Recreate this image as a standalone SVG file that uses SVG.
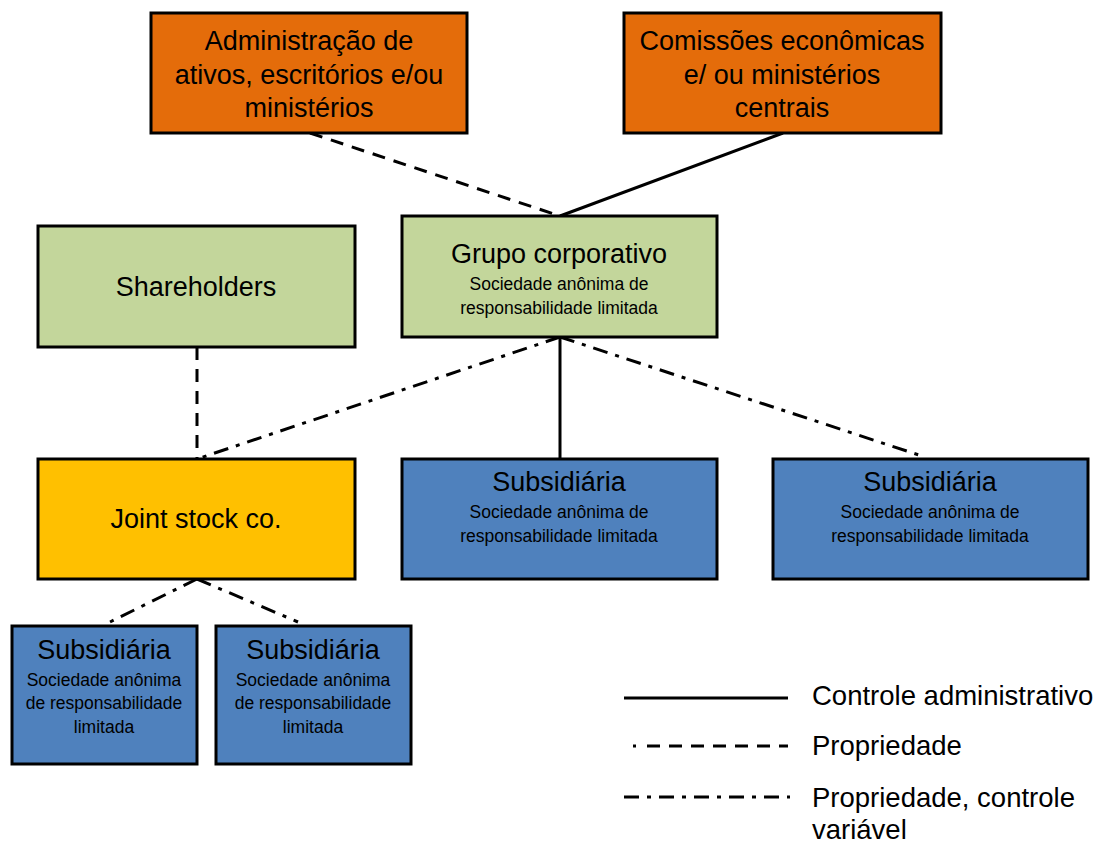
<svg xmlns="http://www.w3.org/2000/svg" width="1099" height="843" viewBox="0 0 1099 843">
<style>
.box{stroke:#000;stroke-width:3}
.org{fill:#E46C0A}
.grn{fill:#C3D69B}
.ylw{fill:#FFC000}
.blu{fill:#4F81BD}
text{font-family:"Liberation Sans",Arial,sans-serif;fill:#000;text-anchor:middle}
.t{font-size:27px}
.s{font-size:17.5px}
.lg{font-size:27.5px;text-anchor:start}
.c{stroke:#000;stroke-width:3;fill:none}
.dash{stroke-dasharray:13,9}
.dd{stroke-dasharray:15,8,4,8}
</style>
<g id="connectors">
<line class="c dash" x1="310" y1="133" x2="560" y2="216"/>
<line class="c" x1="783" y1="133" x2="560" y2="216"/>
<line class="c dash" x1="197" y1="347" x2="197" y2="459"/>
<line class="c dd" x1="560" y1="337" x2="197" y2="459"/>
<line class="c" x1="560" y1="337" x2="560" y2="459"/>
<line class="c dd" x1="560" y1="337" x2="922" y2="456"/>
<line class="c dd" x1="197" y1="579" x2="110" y2="622"/>
<line class="c dd" x1="197" y1="579" x2="298" y2="622"/>
</g>
<g id="admin">
<rect class="box org" x="151" y="13" width="316" height="120"/>
<text class="t" x="309" y="50">Administração de</text>
<text class="t" x="309" y="84">ativos, escritórios e/ou</text>
<text class="t" x="309" y="117">ministérios</text>
</g>
<g id="comissoes">
<rect class="box org" x="624" y="13" width="317" height="120"/>
<text class="t" x="782" y="50">Comissões econômicas</text>
<text class="t" x="782" y="84">e/ ou ministérios</text>
<text class="t" x="782" y="117">centrais</text>
</g>
<g id="grupo">
<rect class="box grn" x="402" y="216" width="315" height="121"/>
<text class="t" x="559" y="263">Grupo corporativo</text>
<text class="s" x="559" y="290">Sociedade anônima de</text>
<text class="s" x="559" y="314">responsabilidade limitada</text>
</g>
<g id="shareholders">
<rect class="box grn" x="38" y="226" width="317" height="121"/>
<text class="t" x="196" y="296">Shareholders</text>
</g>
<g id="jointstock">
<rect class="box ylw" x="38" y="459" width="317" height="120"/>
<text class="t" x="196" y="528">Joint stock co.</text>
</g>
<g id="sub1">
<rect class="box blu" x="402" y="459" width="315" height="120"/>
<text class="t" x="559" y="491">Subsidiária</text>
<text class="s" x="559" y="518">Sociedade anônima de</text>
<text class="s" x="559" y="542">responsabilidade limitada</text>
</g>
<g id="sub2">
<rect class="box blu" x="773" y="459" width="315" height="120"/>
<text class="t" x="930" y="491">Subsidiária</text>
<text class="s" x="930" y="518">Sociedade anônima de</text>
<text class="s" x="930" y="542">responsabilidade limitada</text>
</g>
<g id="sub3">
<rect class="box blu" x="12" y="626" width="185" height="138"/>
<text class="t" x="104" y="659">Subsidiária</text>
<text class="s" x="104" y="686">Sociedade anônima</text>
<text class="s" x="104" y="709">de responsabilidade</text>
<text class="s" x="104" y="733">limitada</text>
</g>
<g id="sub4">
<rect class="box blu" x="216" y="626" width="195" height="138"/>
<text class="t" x="313" y="659">Subsidiária</text>
<text class="s" x="313" y="686">Sociedade anônima</text>
<text class="s" x="313" y="709">de responsabilidade</text>
<text class="s" x="313" y="733">limitada</text>
</g>
<g id="legend">
<line class="c" x1="624" y1="698" x2="788" y2="698"/>
<line class="c" x1="633" y1="746" x2="636" y2="746"/>
<line class="c dash" x1="647" y1="746" x2="788" y2="746"/>
<line class="c dd" x1="624" y1="797" x2="790" y2="797"/>
<text class="lg" x="812" y="705">Controle administrativo</text>
<text class="lg" x="812" y="755">Propriedade</text>
<text class="lg" x="812" y="807">Propriedade, controle</text>
<text class="lg" x="812" y="839">variável</text>
</g>
</svg>
